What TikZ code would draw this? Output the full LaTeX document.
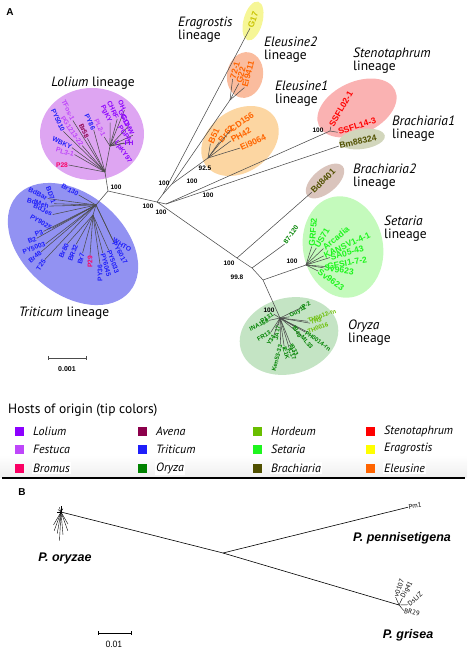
\documentclass[tikz,border=0pt]{standalone}
\usepackage{fontspec}
\setmainfont{PT Sans}
\newfontfamily\tipfont{Liberation Sans}
\usetikzlibrary{shapes.geometric}

\definecolor{cLol}{RGB}{140,0,255}
\definecolor{cFest}{RGB}{190,70,250}
\definecolor{cBrom}{RGB}{250,0,100}
\definecolor{cAvena}{RGB}{140,0,75}
\definecolor{cTrit}{RGB}{30,30,250}
\definecolor{cOry}{RGB}{0,130,0}
\definecolor{cHord}{RGB}{105,190,0}
\definecolor{cSet}{RGB}{30,245,30}
\definecolor{cBrach}{RGB}{80,80,0}
\definecolor{cSten}{RGB}{255,0,0}
\definecolor{cErag}{RGB}{255,255,0}
\definecolor{cEragTip}{RGB}{200,195,0}
\definecolor{cEleu}{RGB}{255,100,0}

\definecolor{fLol}{RGB}{222,165,242}
\definecolor{fTrit}{RGB}{146,146,242}
\definecolor{fErag}{RGB}{246,246,150}
\definecolor{fEleuB}{RGB}{250,188,158}
\definecolor{fEleuA}{RGB}{252,214,162}
\definecolor{fSten}{RGB}{250,178,178}
\definecolor{fBrachA}{RGB}{210,214,188}
\definecolor{fBrachB}{RGB}{218,196,188}
\definecolor{fSet}{RGB}{196,250,188}
\definecolor{fOry}{RGB}{196,228,196}

\tikzstyle{clade} = [ellipse, draw=none, inner sep=0pt]
\tikzstyle{branch} = [draw=black!70, line width=0.55pt]
\tikzstyle{bbranch} = [draw=black, line width=0.6pt]
\tikzstyle{tip} = [inner sep=0.5pt, font=\tipfont\bfseries\fontsize{6.7}{6.7}\selectfont]
\tikzstyle{tipsmall} = [tip, font=\tipfont\bfseries\fontsize{6}{6}\selectfont]
\tikzstyle{tipbig} = [tip, font=\tipfont\bfseries\fontsize{8.6}{8.6}\selectfont]
\tikzstyle{boot} = [inner sep=0pt, font=\tipfont\bfseries\fontsize{6.5}{6.5}\selectfont]
\tikzstyle{lineage} = [anchor=west, align=left, inner sep=0pt, font=\fontsize{13.5}{13}\selectfont]
\tikzstyle{panel} = [inner sep=0pt, font=\tipfont\bfseries\fontsize{10}{10}\selectfont]
\tikzstyle{key} = [rectangle, minimum size=9pt, inner sep=0pt]
\tikzstyle{keytext} = [anchor=west, fill=white, inner sep=1.5pt, font=\itshape\fontsize{12}{12}\selectfont]
\tikzstyle{species} = [inner sep=0pt, font=\tipfont\bfseries\itshape\fontsize{12.5}{12.5}\selectfont]
\tikzstyle{btip} = [inner sep=0.5pt, font=\fontsize{6.8}{6.8}\selectfont]

\begin{document}
\begin{tikzpicture}[x=1pt, y=-1pt]
  \useasboundingbox (0,0) rectangle (467,650);

  % lineage clouds
  \node (lolium) [clade, fill=fLol, minimum width=104pt, minimum height=92pt] at (92,134) {};
  \node (triticum) [clade, fill=fTrit, minimum width=148pt, minimum height=100pt, rotate=-40] at (73,244) {};
  \node (eragrostis) [clade, fill=fErag, minimum width=19pt, minimum height=40pt, rotate=-15] at (253,21) {};
  \node (eleusineB) [clade, fill=fEleuB, minimum width=36pt, minimum height=46pt, rotate=-10] at (245,75) {};
  \node (eleusineA) [clade, fill=fEleuA, minimum width=84pt, minimum height=62pt, rotate=35] at (240,141) {};
  \node (steno) [clade, fill=fSten, minimum width=84pt, minimum height=52pt, rotate=25] at (357,108) {};
  \node (brachA) [clade, fill=fBrachA, minimum width=46pt, minimum height=20pt, rotate=8] at (362,139) {};
  \node (brachB) [clade, fill=fBrachB, minimum width=46pt, minimum height=24pt, rotate=40] at (325,181) {};
  \node (setaria) [clade, fill=fSet, minimum width=80pt, minimum height=102pt, rotate=10] at (343,247) {};
  \node (oryza) [clade, fill=fOry, minimum width=100pt, minimum height=76pt, rotate=15] at (289,336) {};

  \node (pa) [panel] at (10,12) {A};

  % backbone
  \coordinate (root) at (157,202);
  \coordinate (lt) at (108,191);
  \coordinate (lolA) at (105,172);
  \coordinate (lolB) at (110,146);
  \coordinate (trit) at (96,205);
  \coordinate (trit2) at (93,215);
  \coordinate (up1) at (163,194);
  \coordinate (up2) at (172,184);
  \coordinate (el2) at (230,100);
  \coordinate (el1) at (208,158);
  \coordinate (sb) at (166,204);
  \coordinate (sten) at (330,131);
  \coordinate (nb2) at (237,258);
  \coordinate (n87) at (252,268);
  \coordinate (nso) at (263,280);
  \coordinate (seta) at (306,265);
  \coordinate (ory) at (280,318);

  \draw [branch] (lolB) -- (lolA) -- (lt) -- (root) -- (nb2) -- (n87) -- (nso) -- (ory);
  \draw [branch] (lt) -- (trit) -- (trit2);
  \draw [branch] (root) -- (up1) -- (up2) -- (el2);
  \draw [branch] (up2) -- (el1);
  \draw [branch] (root) -- (sb) -- (sten);
  \draw [branch] (nso) -- (seta);

  % Lolium lineage
  \foreach \nm/\x/\y/\r/\an/\col/\txt in {
      la1/68/110/-65/east/cFest/TFos-1, la2/58/120/-65/east/cTrit/PY5010,
      la3/72/131/-55/east/cFest/PG1213-22, la4/84/131/-65/east/cAvena/Br58,
      la5/90/122/-65/east/cTrit/PY86, la6/62/143/-25/east/cTrit/WBKY,
      la7/65/152/-15/east/cFest/PL3-1, la8/62/165/0/east/cBrom/P28}
    {\node (\nm) [tip, text=\col, rotate=\r] at (\x,\y) {\txt};
     \draw [branch] (lolA) -- (\nm.\an);}
  \foreach \nm/\x/\y/\r/\an/\col/\txt in {
      lb1/100/128/-65/east/cFest/PL2-1, lb2/106/114/-65/east/cLol/PgKY,
      lb3/113/110/-65/east/cLol/CHRF, lb4/122/105/-65/east/cLol/OH,
      lb5/124/118/-65/east/cLol/GG11, lb6/128/125/-65/east/cLol/GCHW,
      lb7/125/134/-55/east/cLol/PGPA, lb8/129/143/0/west/cLol/FH,
      lb9/123/152/-55/west/cLol/LpKY97}
    {\node (\nm) [tip, text=\col, rotate=\r] at (\x,\y) {\txt};
     \draw [branch] (lolB) -- (\nm.\an);}

  % Triticum lineage
  \foreach \nm/\x/\y/\r/\an/\col/\txt in {
      tr1/70/190/-30/east/cTrit/Br130, tr2/38/194/-25/east/cTrit/BdBar,
      tr3/51/195/-70/east/cTrit/BD71, tr4/38/203/-15/east/cTrit/BdMeh,
      tr5/43/210/-25/east/cTrit/BdJes, tr6/41/222/-30/east/cTrit/PY9025,
      tr7/39/233/20/east/cTrit/P3, tr8/32/240/20/east/cTrit/B2,
      tr9/34/248/20/east/cTrit/PY5003, tr10/35/257/40/east/cTrit/Br48,
      tr11/41/265/55/east/cTrit/T25, tr18/122/245/-30/west/cTrit/WHTO,
      tr19/120/253/-60/west/cTrit/PY6017}
    {\node (\nm) [tip, text=\col, rotate=\r] at (\x,\y) {\txt};
     \draw [branch] (trit) -- (\nm.\an);}
  \foreach \nm/\x/\y/\r/\an/\col/\txt in {
      tr12/64/251/65/east/cTrit/Br80, tr13/73/253/70/east/cTrit/BR32,
      tr14/81/259/75/east/cTrit/Br7, tr15/90/262/90/east/cBrom/P29,
      tr16/100/273/90/east/cTrit/PY36, tr17/106/265/-75/west/cTrit/PY6045,
      tr20/113/262/-70/west/cTrit/PY5033}
    {\node (\nm) [tip, text=\col, rotate=\r] at (\x,\y) {\txt};
     \draw [branch] (trit2) -- (\nm.\an);}

  % Eragrostis, Eleusine lineages
  \node (g17) [tipbig, text=cEragTip, rotate=70] at (253,20) {G17};
  \draw [branch] (up1) -- (g17.west);
  \foreach \nm/\x/\y/\txt in {f1/235/70/72-1, f2/241/75/G22, f3/248/74/Ei9411}
    {\node (\nm) [tipbig, text=cEleu, rotate=75] at (\x,\y) {\txt};
     \draw [branch] (el2) -- (\nm.west);}
  \foreach \nm/\x/\y/\r/\txt in {
      e1/214/136/65/B51, e2/226/134/50/Br62, e3/242/122/35/CD156,
      e4/241/135/30/PH42, e5/253/142/25/Ei9064}
    {\node (\nm) [tipbig, text=cEleu, rotate=\r] at (\x,\y) {\txt};
     \draw [branch] (el1) -- (\nm.west);}

  % Stenotaphrum, Brachiaria lineages
  \node (s1) [tipbig, text=cSten, rotate=60] at (341,109) {SSFL02-1};
  \node (s2) [tipbig, text=cSten, rotate=18] at (357,126) {SSFL14-3};
  \draw [branch] (sten) -- (s1.west);
  \draw [branch] (sten) -- (s2.west);
  \node (bm) [tipbig, text=cBrach, rotate=12] at (358,142) {Bm88324};
  \draw [branch] (sb) -- (bm.west);
  \node (bd) [tipbig, text=cBrach, rotate=45] at (323,181) {Bd8401};
  \draw [branch] (nb2) -- (bd.west);
  \node (t87) [tip, text=cOry, rotate=55] at (291,235) {87-120};
  \draw [branch] (n87) -- (t87.west);

  % Setaria lineage
  \foreach \nm/\x/\y/\r/\txt in {
      g1/313/232/85/GRF52, g2/322/238/60/US71, g3/336/238/40/Arcadia,
      g4/347/245/25/KANSV1-4-1, g5/347/253/15/SA05-43, g6/347/263/10/GFSI1-7-2,
      g7/339/270/-8/Sv9623, g8/331/280/-35/Sv9623}
    {\node (\nm) [tipbig, text=cSet, rotate=\r] at (\x,\y) {\txt};
     \draw [branch] (seta) -- (\nm.west);}

  % Oryza lineage
  \foreach \nm/\x/\y/\r/\an/\col/\txt in {
      o1/306/305/30/west/cOry/P-2, o2/298/312/30/west/cOry/Guy11,
      o3/322/316/20/west/cHord/TH0012-rn, o4/316/321/20/west/cHord/TH3,
      o5/318/328/20/west/cHord/TH0016, o6/318/341/-35/west/cOry/PH0014-rn,
      o7/307/342/-50/west/cOry/ML33, o8/294/350/-60/west/cOry/IB33,
      o9/297/332/-60/west/cOry/IB49, o10/292/354/-65/west/cOry/IC17,
      o11/286/353/-75/west/cOry/IE1K, o12/277/358/75/east/cOry/Ken53-33,
      o13/277/333/80/east/cOry/JA17, o14/271/340/60/east/cOry/Y34,
      o15/264/336/30/east/cOry/FR13, o16/259/325/25/east/cOry/INA168,
      o17/267/318/30/east/cOry/P131}
    {\node (\nm) [tipsmall, text=\col, rotate=\r] at (\x,\y) {\txt};
     \draw [branch] (ory) -- (\nm.\an);}

  % bootstrap values
  \foreach \nm/\x/\y/\v in {
      b1/116/187/100, b2/164/183/100, b3/192/181/100, b4/205/168/92.5,
      b5/148/206/100, b6/161/212/100, b7/208/195/100, b8/318/130/100,
      b9/229/263/100, b10/237/277/99.8, b11/292/261/100, b12/269/310/100}
    {\node (\nm) [boot] at (\x,\y) {\v};}

  % lineage names
  \node (lolLab) [lineage, anchor=center] at (93,83) {\textit{Lolium} lineage};
  \node (triLab) [lineage, anchor=center] at (64,313) {\textit{Triticum} lineage};
  \node (eraLab) [lineage] at (178,30) {\textit{Eragrostis}\\lineage};
  \node (el2Lab) [lineage] at (264,50) {\textit{Eleusine2}\\lineage};
  \node (el1Lab) [lineage] at (275,94) {\textit{Eleusine1}\\lineage};
  \node (stnLab) [lineage] at (353,61) {\textit{Stenotaphrum}\\lineage};
  \node (br1Lab) [lineage] at (392,129) {\textit{Brachiaria1}\\lineage};
  \node (br2Lab) [lineage] at (353,177) {\textit{Brachiaria2}\\lineage};
  \node (setLab) [lineage] at (384,229) {\textit{Setaria}\\lineage};
  \node (oryLab) [lineage] at (348,333) {\textit{Oryza}\\lineage};

  % scale bar A
  \coordinate (sa1) at (48,358);
  \coordinate (sa2) at (86,358);
  \draw [branch] (sa1) -- (sa2);
  \draw [branch] (sa1) ++(0,-2) -- ++(0,4);
  \draw [branch] (sa2) ++(0,-2) -- ++(0,4);
  \node (sal) [boot, font=\tipfont\bfseries\fontsize{7}{7}\selectfont] at (67,369) {0.001};

  % legend
  \node (hosts) [anchor=west, inner sep=0pt, font=\fontsize{13.5}{14}\selectfont] at (8,410) {Hosts of origin (tip colors)};
  \shade [top color=white, bottom color=black!6] (0,455) rectangle (467,477);
  \foreach \nm/\x/\y/\col/\txt in {
      kLol/19/431/cLol/Lolium, kFest/19/449/cFest/Festuca, kBrom/19/468/cBrom/Bromus,
      kAve/142/431/cAvena/Avena, kTrit/142/449/cTrit/Triticum, kOry/142/468/cOry/Oryza,
      kHord/257/431/cHord/Hordeum, kSet/257/449/cSet/Setaria, kBra/257/468/cBrach/Brachiaria,
      kSten/370/431/cSten/Stenotaphrum, kErag/370/449/cErag/Eragrostis, kEleu/370/468/cEleu/Eleusine}
    {\node (\nm) [key, fill=\col] at (\x,\y) {};
     \node (t\nm) [keytext] at (\x+12.5,\y) {\txt};}
  \draw [line width=1.2pt] (2,478) -- (465,478);

  % panel B
  \node (pb) [panel] at (22,492) {B};
  \coordinate (ohub) at (61,512);
  \coordinate (bnode) at (223,553);
  \coordinate (ghub) at (399,605);
  \draw [bbranch] (ohub) -- (bnode) -- (ghub);
  \node (pm1) [btip, rotate=10] at (415,506) {Pm1};
  \draw [bbranch] (bnode) -- (pm1.west);
  \foreach \a/\l in {250/5, 270/6, 220/4, 300/4, 180/4,
                     93/29, 100/22, 85/23, 70/20, 110/20, 60/14, 120/15}
    {\draw [bbranch, line width=0.4pt] (ohub) -- ++(\a:\l);}
  \foreach \nm/\x/\y/\r/\txt in {
      v1/399/588/70/v0107, v2/407/590/60/Dig41, v3/415/599/40/DsLIZ, v4/412/612/-10/BR29}
    {\node (\nm) [btip, rotate=\r] at (\x,\y) {\txt};
     \draw [bbranch, line width=0.4pt] (ghub) -- (\nm.west);}
  \node (spOry) [species] at (65,558) {P. oryzae};
  \node (spPen) [species] at (402,538) {P. pennisetigena};
  \node (spGri) [species] at (408,635) {P. grisea};

  % scale bar B
  \coordinate (sb1) at (98,633);
  \coordinate (sb2) at (131,633);
  \draw [bbranch] (sb1) -- (sb2);
  \draw [bbranch] (sb1) ++(0,-2) -- ++(0,4);
  \draw [bbranch] (sb2) ++(0,-2) -- ++(0,4);
  \node (sbl) [inner sep=0pt, font=\fontsize{9}{9}\selectfont] at (114,644) {0.01};
\end{tikzpicture}
\end{document}
